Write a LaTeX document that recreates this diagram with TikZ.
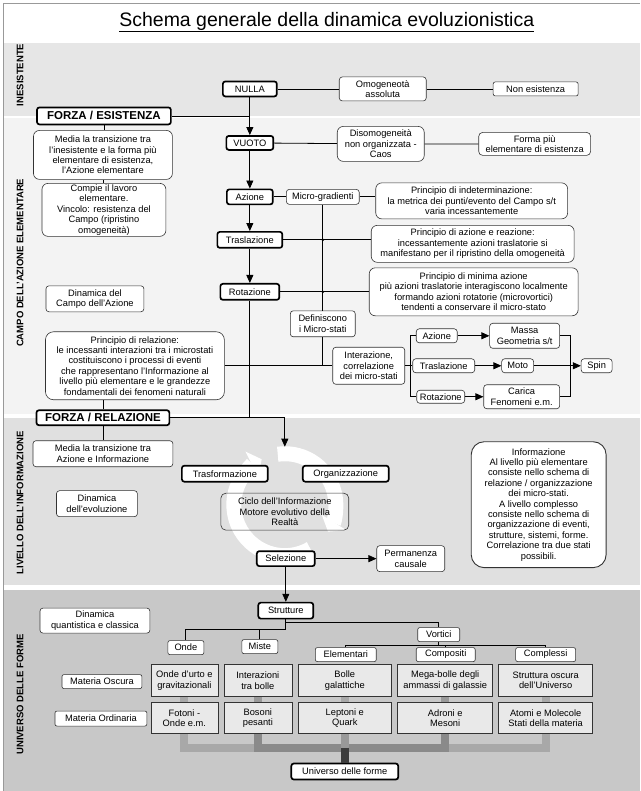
\documentclass[tikz,border=0pt]{standalone}
\usepackage{fontspec}
\setmainfont{Liberation Sans}
\usetikzlibrary{arrows.meta}
\definecolor{bandA}{HTML}{E6E6E6}
\definecolor{bandB}{HTML}{F3F3F3}
\definecolor{bandC}{HTML}{E0E0E0}
\definecolor{bandD}{HTML}{C8C8C8}
\definecolor{cellgray}{HTML}{E9E9E9}
\definecolor{pipeA}{HTML}{A8A8A8}
\definecolor{pipeB}{HTML}{999999}
\definecolor{pipeC}{HTML}{8A8A8A}
\definecolor{pipeD}{HTML}{3C3C3C}
\begin{document}
\begin{tikzpicture}[x=1pt, y=-1pt,
    every node/.style={font=\fontsize{9.3}{10.4}\selectfont, align=center, inner sep=0pt},
    sz/.style 2 args={minimum width=#1pt, minimum height=#2pt},
    box/.style={draw=black!80, fill=white, line width=0.6pt, rounded corners=3pt},
    note/.style={box, rounded corners=6pt},
    key/.style={draw, fill=white, line width=1.7pt, rounded corners=2.5pt},
    force/.style={key, font=\bfseries\fontsize{11.5}{13}\selectfont},
    cell/.style={draw=black!80, fill=cellgray, line width=0.6pt},
    band/.style={rotate=90, font=\bfseries\fontsize{9.5}{11}\selectfont},
    link/.style={line width=0.8pt},
    arr/.style={link, -{Triangle[length=8pt,width=7pt]}},
    ring/.style={white, line width=15pt, -{Triangle[length=11pt 0,width=28pt 0]}},
    pipe/.style={line width=8pt}]
    % bands
    \fill[white] (0,0) rectangle (640,791);
    \fill[bandA] (4,43) rectangle (640,116);
    \fill[bandB] (4,118) rectangle (640,414);
    \fill[bandC] (4,418) rectangle (640,585);
    \fill[bandD] (4,590) rectangle (640,791);
    \draw[black!40, line width=1pt] (4,791) -- (4,4) -- (640,4);
    \node (title) at (327,22) {\fontsize{19.5}{22}\selectfont\underline{Schema generale della dinamica evoluzionistica}};
    \node[band] (lbA) at (20,75) {INESISTENTE};
    \node[band] (lbB) at (20,263) {CAMPO DELL'AZIONE ELEMENTARE};
    \node[band] (lbC) at (20,503) {LIVELLO DELL'INFORMAZIONE};
    \node[band] (lbD) at (20,695) {UNIVERSO DELLE FORME};
    % cycle of information
    \draw[ring] (285,505) ++(60:51) arc[start angle=60, end angle=243, radius=51];
    \draw[ring] (285,505) ++(262:51) arc[start angle=262, end angle=392, radius=51];

    % inesistente
    \node[key, sz={54}{15}] (nulla) at (250,89) {NULLA};
    \node[box, sz={87}{24}] (omog) at (383,89) {Omogeneotà\\assoluta};
    \node[box, rounded corners=2pt, sz={85}{14}] (nonex) at (536,89) {Non esistenza};
    \node[force, sz={134}{17}] (forzaE) at (104,116) {FORZA / ESISTENZA};

    % campo dell'azione elementare
    \node[note, sz={139}{49}] (mediaE) at (103,155) {Media la transizione tra\\l'inesistente e la forma più\\elementare di esistenza,\\l'Azione elementare};
    \node[note, sz={124}{53}] (compie) at (104,210) {Compie il lavoro\\elementare.\\Vincolo: resistenza del\\Campo (ripristino\\omogeneità)};
    \node[key, sz={47}{14}] (vuoto) at (250,143) {VUOTO};
    \node[note, sz={87}{35}] (disom) at (381,144) {Disomogeneità\\non organizzata -\\Caos};
    \node[note, rounded corners=4pt, sz={112}{23}] (forma) at (535,144) {Forma più\\elementare di esistenza};
    \node[key, sz={46}{15}] (azione) at (250,197) {Azione};
    \node[box, sz={73}{15}] (microgr) at (323,197) {Micro-gradienti};
    \node[note, sz={192}{36}] (indet) at (472,201) {Principio di indeterminazione:\\la metrica dei punti/evento del Campo s/t\\varia incessantemente};
    \node[key, sz={65}{16}] (trasl) at (250,240) {Traslazione};
    \node[note, sz={203}{37}] (azreaz) at (473,244) {Principio di azione e reazione:\\incessantemente azioni traslatorie si\\manifestano per il ripristino della omogeneità};
    \node[key, sz={59}{16}] (rotaz) at (250,292) {Rotazione};
    \node[note, sz={209}{48}] (minaz) at (474,292) {Principio di minima azione\\più azioni traslatorie interagiscono localmente\\formando azioni rotatorie (microvortici)\\tendenti a conservare il micro-stato};
    \node[box, sz={98}{26}] (dincampo) at (95,299) {Dinamica del\\Campo dell'Azione};
    \node[box, sz={65}{26}] (defin) at (323,324) {Definiscono\\i Micro-stati};
    \node[note, rounded corners=8pt, sz={179}{68}] (prinrel) at (135,366) {Principio di relazione:\\le incessanti interazioni tra i microstati\\costituiscono i processi di eventi\\che rappresentano l'Informazione al\\livello più elementare e le grandezze\\fondamentali dei fenomeni naturali};
    \node[box, sz={72}{37}] (interaz) at (369,366) {Interazione,\\correlazione\\dei micro-stati};
    \node[box, sz={41}{14}] (azS) at (437,336) {Azione};
    \node[box, sz={62}{14}] (traslS) at (444,366) {Traslazione};
    \node[box, sz={48}{13}] (rotS) at (441,397) {Rotazione};
    \node[box, sz={70}{25}] (massa) at (525,336) {Massa\\Geometria s/t};
    \node[box, sz={32}{14}] (moto) at (518,366) {Moto};
    \node[box, sz={76}{24}] (carica) at (522,397) {Carica\\Fenomeni e.m.};
    \node[box, sz={31}{14}] (spin) at (597,366) {Spin};
    \coordinate (brL) at (411,366);
    \coordinate (brR) at (571,366);

    % livello dell'informazione
    \node[force, sz={133}{15}] (forzaR) at (103,418) {FORZA / RELAZIONE};
    \node[box, sz={140}{26}] (mediaR) at (103,454) {Media la transizione tra\\Azione e Informazione};
    \node[box, sz={81}{26}] (dinevol) at (97,504) {Dinamica\\dell'evoluzione};
    \node[key, sz={86}{16}] (trasf) at (225,474) {Trasformazione};
    \node[key, sz={86}{16}] (organ) at (346,474) {Organizzazione};
    \node[box, fill=none, rounded corners=5pt, sz={128}{37}] (ciclo) at (285,512) {Ciclo dell'Informazione\\Motore evolutivo della\\Realtà};
    \node[key, sz={58}{15}] (selez) at (286,559) {Selezione};
    \node[box, sz={68}{26}] (perman) at (411,559) {Permanenza\\causale};
    \node[box, line width=0.9pt, rounded corners=13pt, sz={135}{126}] (info) at (539,505) {Informazione\\Al livello più elementare\\consiste nello schema di\\relazione / organizzazione\\dei micro-stati.\\A livello complesso\\consiste nello schema di\\organizzazione di eventi,\\strutture, sistemi, forme.\\Correlazione tra due stati\\possibili.};
    \coordinate (cyctop) at (285,447);

    % universo delle forme
    \node[key, sz={55}{16}] (strutt) at (286,611) {Strutture};
    \node[box, sz={110}{25}] (dinq) at (95,621) {Dinamica\\quantistica e classica};
    \node[box, rounded corners=2pt, sz={36}{14}] (onde) at (186,648) {Onde};
    \node[box, rounded corners=2pt, sz={36}{14}] (miste) at (260,647) {Miste};
    \node[box, rounded corners=2pt, sz={42}{14}] (vortici) at (439,635) {Vortici};
    \node[box, rounded corners=2pt, sz={61}{14}] (elem) at (346,655) {Elementari};
    \node[box, rounded corners=2pt, sz={59}{14}] (compo) at (446,655) {Compositi};
    \node[box, rounded corners=2pt, sz={60}{14}] (compl) at (546,655) {Complessi};
    \node[box, rounded corners=2pt, sz={80}{14}] (moscura) at (102,682) {Materia Oscura};
    \node[box, rounded corners=2pt, sz={92}{15}] (mordin) at (101,719) {Materia Ordinaria};
    \node[cell, sz={67}{32}] (o1) at (184.5,681) {Onde d'urto e\\gravitazionali};
    \node[cell, sz={68}{32}] (o2) at (258,681) {Interazioni\\tra bolle};
    \node[cell, sz={94}{32}] (o3) at (345,681) {Bolle\\galattiche};
    \node[cell, sz={95}{32}] (o4) at (445.5,681) {Mega-bolle degli\\ammassi di galassie};
    \node[cell, sz={94}{32}] (o5) at (546,681) {Struttura oscura\\dell'Universo};
    \node[cell, sz={67}{31}] (r1) at (184.5,718.5) {Fotoni -\\Onde e.m.};
    \node[cell, sz={68}{31}] (r2) at (258,718.5) {Bosoni\\pesanti};
    \node[cell, sz={94}{31}] (r3) at (345,718.5) {Leptoni e\\Quark};
    \node[cell, sz={95}{31}] (r4) at (445.5,718.5) {Adroni e\\Mesoni};
    \node[cell, sz={94}{31}] (r5) at (546,718.5) {Atomi e Molecole\\Stati della materia};
    \node[key, sz={107}{16}] (univ) at (345,772) {Universo delle forme};
    \coordinate (bus) at (0,748);
    \coordinate (tj) at (286,630);
    \coordinate (vj) at (286,623);
    \coordinate (vk) at (439,646);

    % connectors
    \draw[link] (nulla) -- (omog) -- (nonex);
    \draw[link] (forzaE.east) -- (forzaE.east -| nulla.south);
    \draw[arr] (nulla) -- (vuoto);
    \draw[link] (forzaE.south) -- (forzaE.south |- mediaE.north);
    \draw[link] (mediaE.south) -- (mediaE.south |- compie.north);
    \draw[link] (vuoto) -- (disom) -- (forma);
    \draw[arr] (vuoto) -- (azione);
    \draw[arr] (azione) -- (trasl);
    \draw[arr] (trasl) -- (rotaz);
    \draw[link] (azione) -- (microgr);
    \draw[link] (microgr.east) -- (microgr.east -| indet.west);
    \draw[link] (trasl.east) -- (trasl.east -| azreaz.west);
    \draw[link] (rotaz.east) -- (rotaz.east -| minaz.west);
    \draw[link] (microgr.south) -- (defin.north);
    \fill (microgr.south |- trasl.east) circle (1.4pt);
    \fill (microgr.south |- rotaz.east) circle (1.4pt);
    \draw[link] (defin.south) -- (defin.south |- interaz.west);
    \draw[link] (prinrel) -- (interaz);
    \draw[link] (interaz.east) -- (traslS.west);
    \draw[link] (azS.west) -- (azS.west -| brL) -- (rotS.west -| brL) -- (rotS.west);
    \draw[arr] (azS) -- (massa);
    \draw[arr] (traslS) -- (moto);
    \draw[arr] (rotS) -- (rotS -| carica.west);
    \draw[link] (massa.east) -- (massa.east -| brR) -- (carica.east -| brR) -- (carica.east);
    \draw[arr] (moto) -- (spin);
    \draw[link] (forzaR.north) -- (forzaR.north |- prinrel.south);
    \draw[link] (forzaR) -- (mediaR);
    \draw[link] (rotaz.south) -- (rotaz.south |- forzaR.east);
    \draw[arr] (forzaR.east) -| (cyctop);
    \draw[arr] (selez) -- (perman);
    \draw[arr] (selez) -- (strutt);
    \draw[link] (strutt.south) -- (tj) -| (onde.north);
    \draw[link] (miste.north) -- (miste.north |- tj);
    \draw[link] (vj) -| (vortici.north);
    \draw[link] (vortici.south) -- (vk);
    \draw[link] (elem.north) -- (elem.north |- vk) -- (compl.north |- vk) -- (compl.north);
    \draw[link] (compo.north) -- (compo.north |- vk);
    % material pipes
    \draw[pipe, pipeA] (o1.south) -- (r1.north);
    \draw[pipe, pipeB] (o2.south) -- (r2.north);
    \draw[pipe, pipeA] (o3.south) -- (r3.north);
    \draw[pipe, pipeB] (o4.south) -- (r4.north);
    \draw[pipe, pipeA] (o5.south) -- (r5.north);
    \draw[pipe, pipeA] (r1.south) |- (r2.south |- bus);
    \draw[pipe, pipeA] (r5.south) |- (r4.south |- bus);
    \draw[pipe, pipeC] (r2.south) |- (r3.south |- bus);
    \draw[pipe, pipeC] (r4.south) |- (r3.south |- bus);
    \draw[pipe, pipeB] (r3.south) -- (r3.south |- bus);
    \draw[pipe, pipeD] (r3.south |- bus) -- (univ.north);
\end{tikzpicture}
\end{document}
